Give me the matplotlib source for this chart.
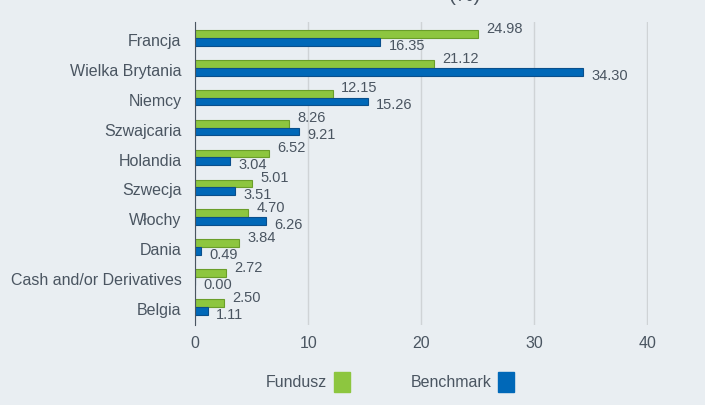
import matplotlib.pyplot as plt
from matplotlib.patches import Patch
import numpy as np

# Data
countries = ['Francja', 'Wielka Brytania', 'Niemcy', 'Szwajcaria', 'Holandia',
             'Szwecja', 'Włochy', 'Dania', 'Cash and/or Derivatives', 'Belgia']
fund = [24.98, 21.12, 12.15, 8.26, 6.52, 5.01, 4.70, 3.84, 2.72, 2.50]
bench = [16.35, 34.30, 15.26, 9.21, 3.04, 3.51, 6.26, 0.49, 0.00, 1.11]
x_ticks = [0, 10, 20, 30, 40]

bg = '#e9eef2'
txt = '#4a5561'
green, green_edge = '#8dc63f', '#6a9e2a'
blue, blue_edge = '#0068b8', '#0a4f8c'

plt.rcParams['font.family'] = ['Liberation Sans', 'DejaVu Sans']

fig = plt.figure(figsize=(7.05, 4.05), dpi=100, facecolor=bg)
ax = fig.add_axes([0.277, 0.198, 0.642, 0.748], facecolor=bg)

y = np.arange(len(countries))
h = 0.26
ax.barh(y - h / 2, fund, height=h, color=green, edgecolor=green_edge, linewidth=0.8)
ax.barh(y + h / 2, bench, height=h, color=blue, edgecolor=blue_edge, linewidth=0.8)

# value labels
for yi, f, b in zip(y, fund, bench):
    ax.annotate('{:.2f}'.format(f), (f, yi - h), xytext=(6, 1), textcoords='offset points',
                va='center', ha='left', fontsize=10.5, color=txt)
    ax.annotate('{:.2f}'.format(b), (b, yi + h), xytext=(6, 0), textcoords='offset points',
                va='center', ha='left', fontsize=10.5, color=txt)

ax.set_ylim(9.6, -0.535)
ax.set_xlim(0, 40.05)
ax.set_yticks(y + 0.07)
ax.set_yticklabels(countries, fontsize=11.5, color=txt)
ax.set_xticks(x_ticks)
ax.set_xticklabels([str(t) for t in x_ticks], fontsize=11.5, color=txt)
ax.tick_params(length=0, pad=8)
ax.tick_params(axis='y', pad=10)
ax.grid(axis='x', color='#cfd3d6', linewidth=1)
ax.set_axisbelow(True)
for s in ['top', 'right', 'bottom']:
    ax.spines[s].set_visible(False)
ax.spines['left'].set_color(txt)

fig.text(0.66, 0.988, '(%)', ha='center', va='bottom', fontsize=15, color=txt)

handles = [Patch(facecolor=green, edgecolor=green), Patch(facecolor=blue, edgecolor=blue)]
fig.legend(handles, ['Fundusz', 'Benchmark'], loc='center', bbox_to_anchor=(0.553, 0.057),
           ncol=2, frameon=False, markerfirst=False, handlelength=1.0, handleheight=1.6,
           handletextpad=0.4, columnspacing=3.8, fontsize=11.5, labelcolor=txt)

fig.savefig('out.png', dpi=100, facecolor=bg)
